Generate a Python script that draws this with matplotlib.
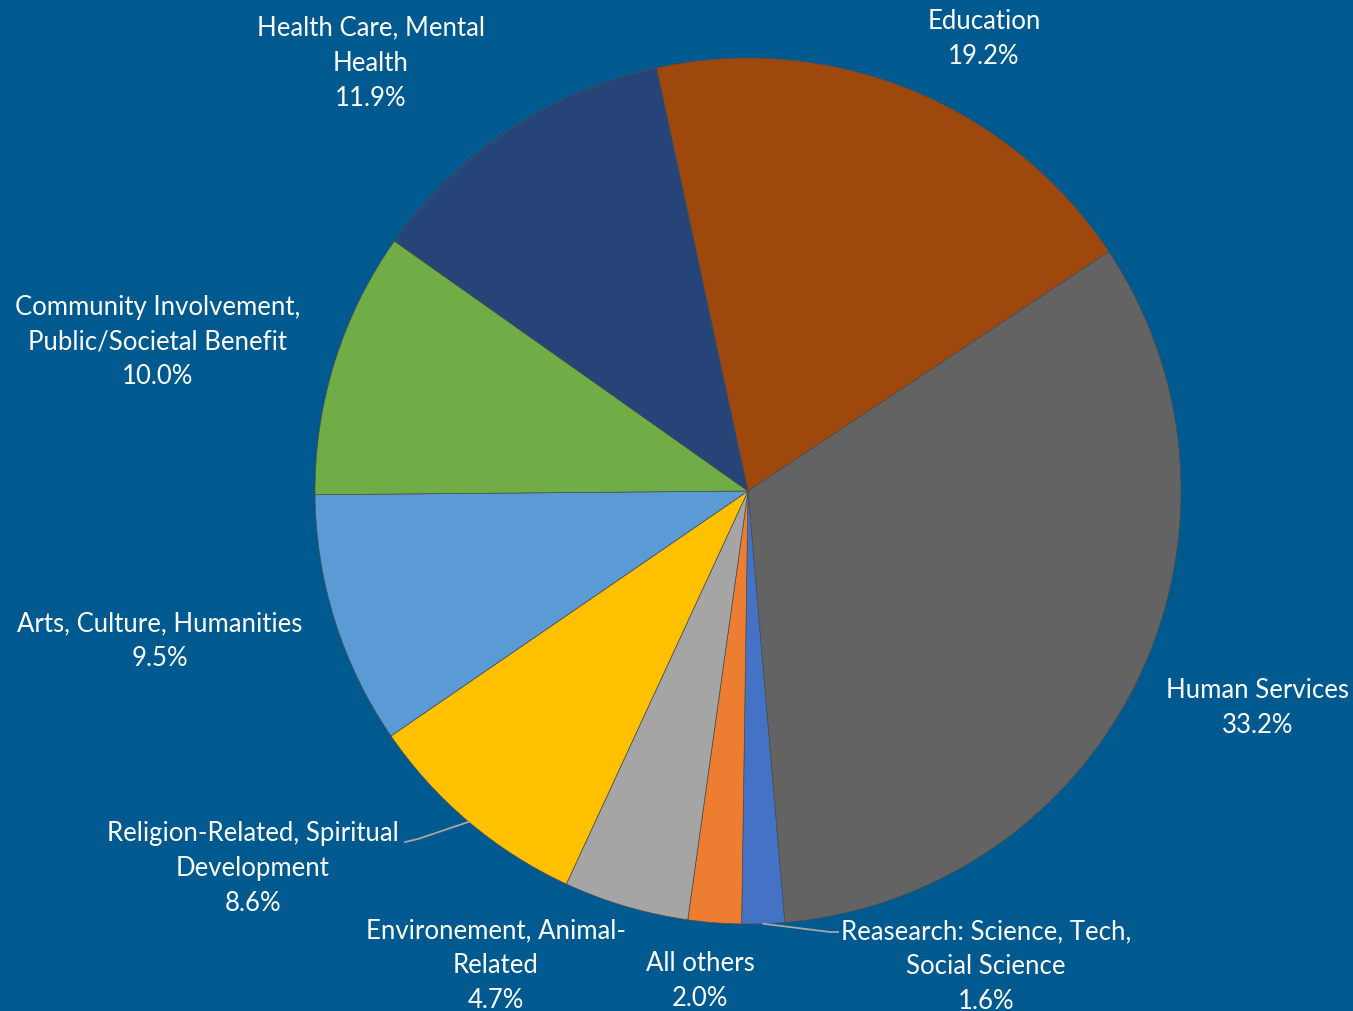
import numpy as np
import matplotlib
matplotlib.use("Agg")
import matplotlib.pyplot as plt

plt.rcParams['font.family'] = ['Lato', 'DejaVu Sans']

# slices, clockwise starting from Education
labels = ["Education", "Human Services", "Reasearch: Science, Tech,\nSocial Science",
          "All others", "Environement, Animal-\nRelated", "Religion-Related, Spiritual\nDevelopment",
          "Arts, Culture, Humanities", "Community Involvement,\nPublic/Societal Benefit",
          "Health Care, Mental\nHealth"]
shares = [19.2, 33.2, 1.6, 2.0, 4.7, 8.6, 9.5, 10.0, 11.9]
colors = ["#9E480E", "#636363", "#4472C4", "#ED7D31", "#A5A5A5",
          "#FFC000", "#5B9BD5", "#70AD47", "#264478"]

bg = "#005A8F"
W, H = 1353, 1012
cx, cy, R = 748, H - 492, 433

# label block centres (pixels from top-left)
label_xy = [(984, 39), (1258, 708), (986, 967), (700, 981), (496, 966),
            (253, 869), (160, 641), (158, 342), (371, 63)]

fig = plt.figure(figsize=(W / 100, H / 100), dpi=100)
fig.patch.set_facecolor(bg)
ax = fig.add_axes([0, 0, 1, 1])
ax.set_facecolor(bg)

wedges, _ = ax.pie(shares, colors=colors, startangle=102.2, counterclock=False,
                   center=(cx, cy), radius=R, frame=True,
                   wedgeprops=dict(linewidth=0.5, edgecolor="#4d4d4d"))
ax.set_xlim(0, W)
ax.set_ylim(0, H)
ax.set_aspect('equal')
ax.axis('off')

for lab, s, (x, y) in zip(labels, shares, label_xy):
    ax.text(x, H - y, f"{lab}\n{s:.1f}%", ha='center', va='center', color='white',
            fontsize=18.5, linespacing=1.5)

# leader lines
def edge_point(w):
    t = np.deg2rad((w.theta1 + w.theta2) / 2)
    return cx + R * np.cos(t), cy + R * np.sin(t)

ex, ey = edge_point(wedges[5])
ax.plot([405, 418, ex], [H - 843, H - 840, ey], color="#A6A6A6", lw=1.3)
ex, ey = edge_point(wedges[2])
ax.plot([ex, 830, 838], [ey, H - 933, H - 933], color="#A6A6A6", lw=1.3)

fig.savefig("out.png", dpi=100, facecolor=bg)
